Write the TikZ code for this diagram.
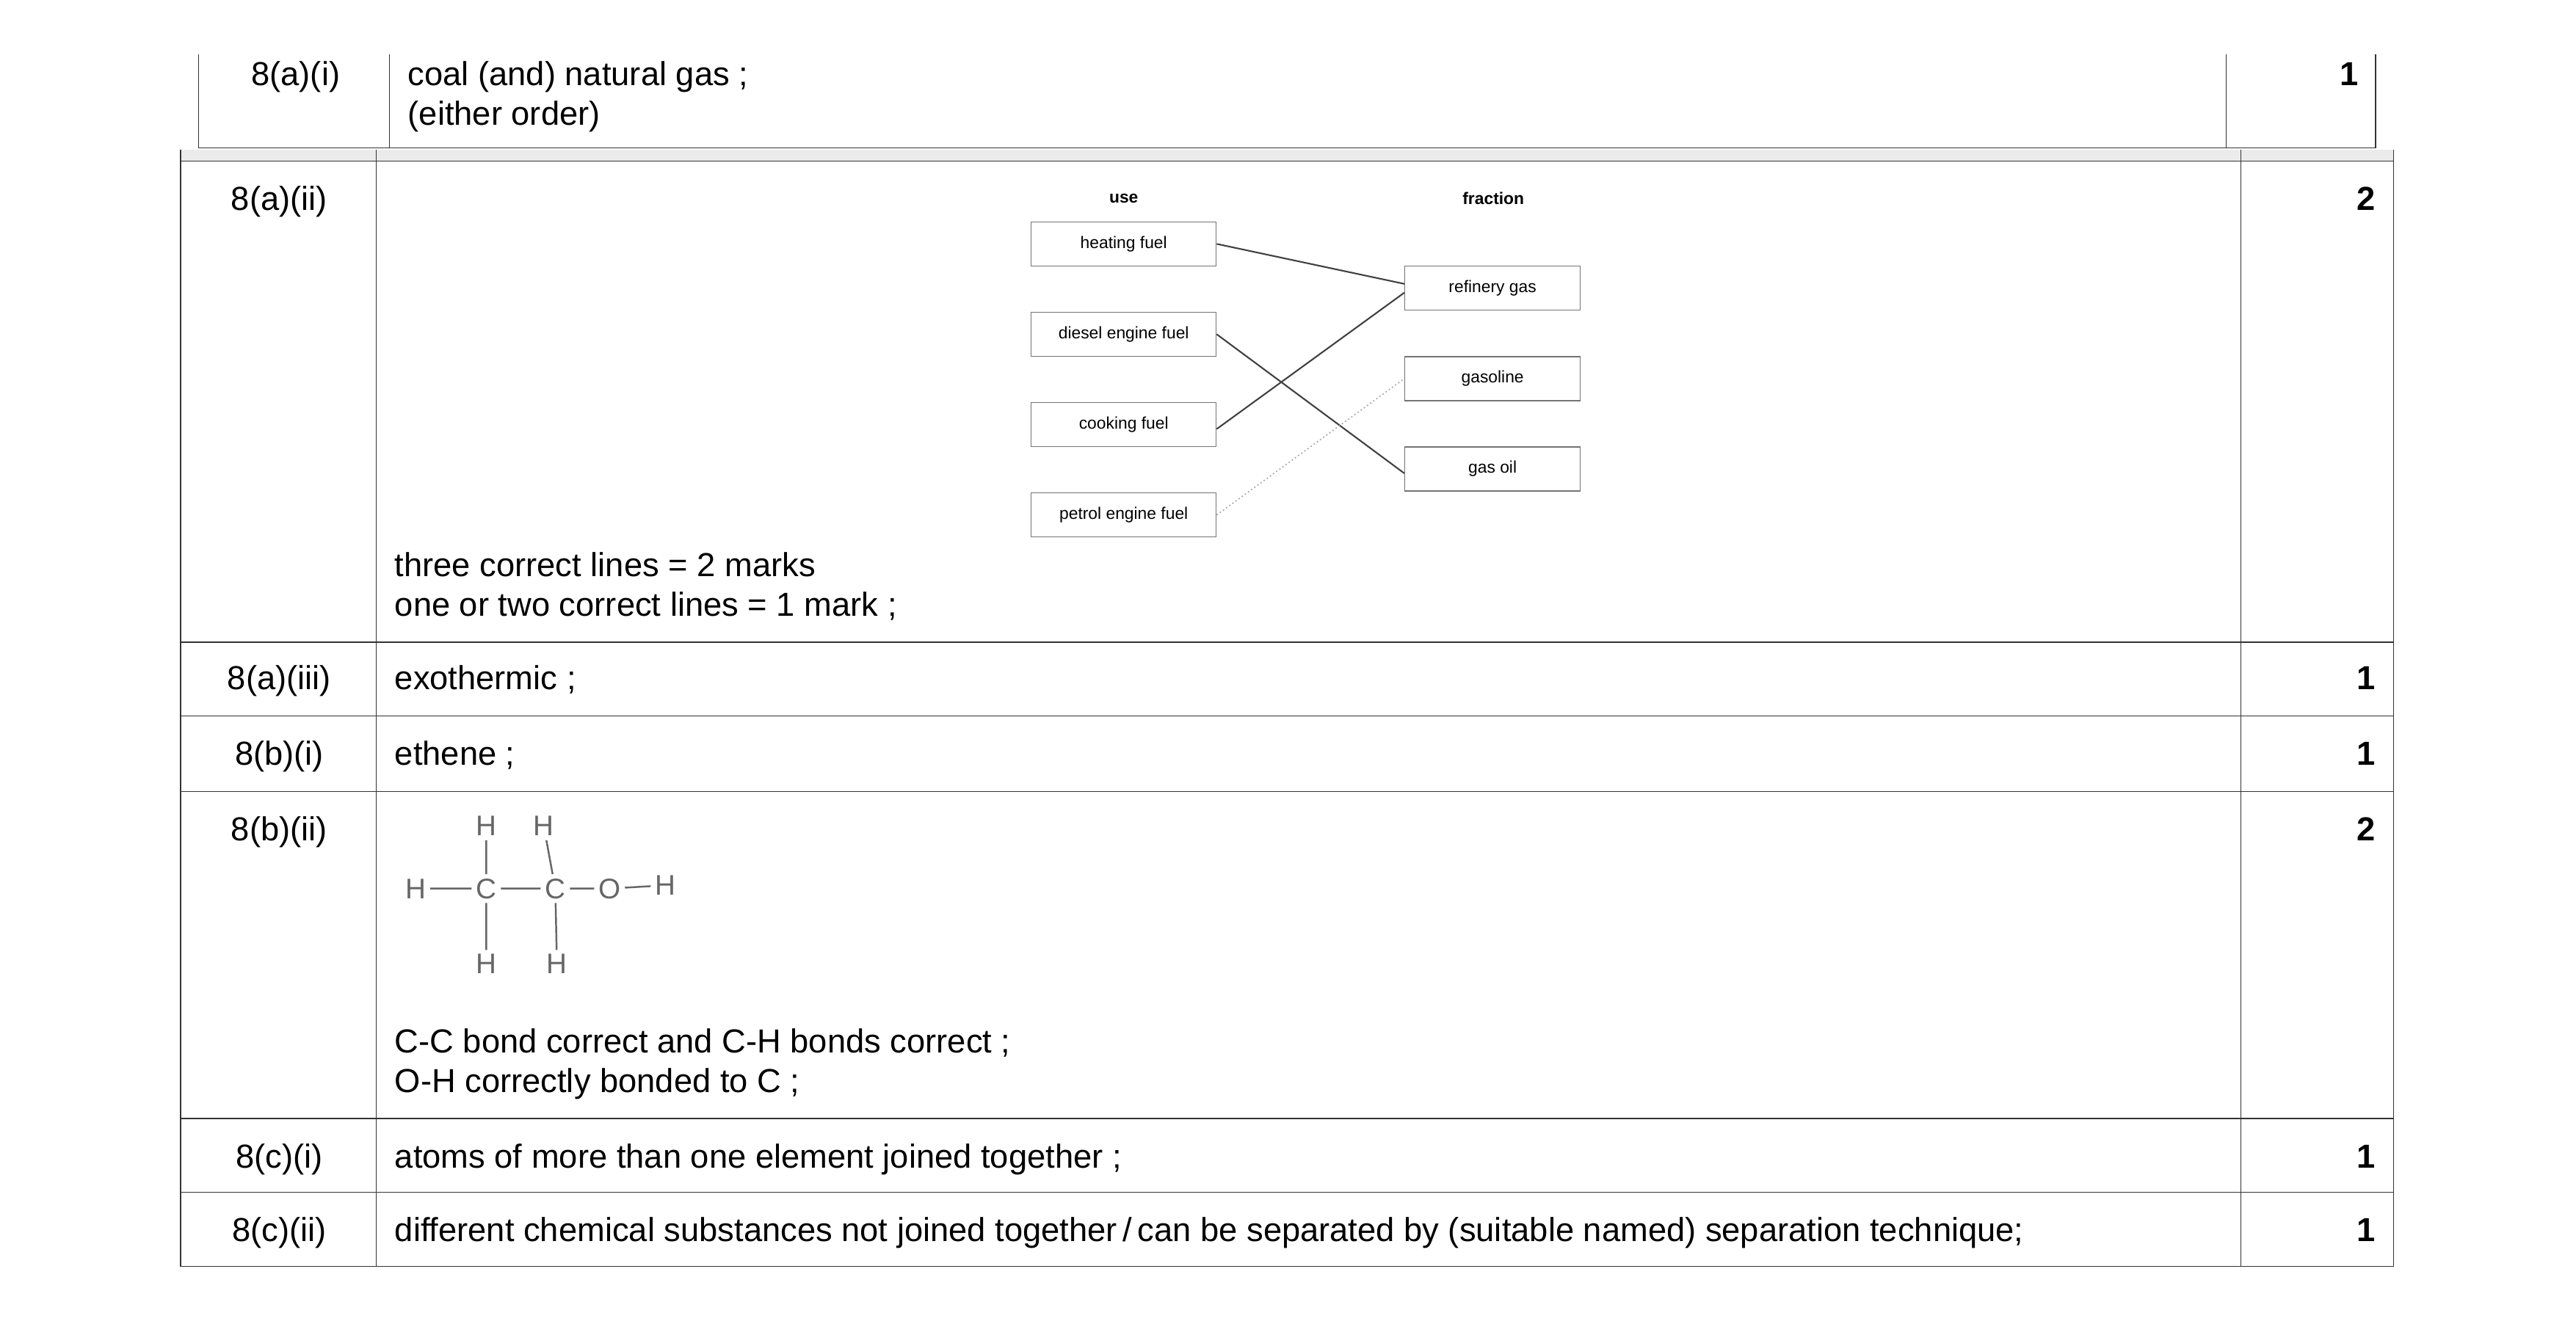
\documentclass[tikz,border=0pt]{standalone}
\usepackage{fontspec}
\setmainfont{Liberation Sans}
\usetikzlibrary{positioning}
\tikzset{
  txt/.style={anchor=base west, inner sep=0pt, font=\fontsize{12.9}{15}\selectfont},
  qno/.style={anchor=base, inner sep=0pt, font=\fontsize{12.9}{15}\selectfont},
  marks/.style={anchor=base east, inner sep=0pt, font=\fontsize{12.9}{15}\selectfont\bfseries},
  usebox/.style={draw=black!55, minimum width=2.52cm, minimum height=0.6cm, inner sep=0pt, font=\fontsize{6.5}{8}\selectfont},
  fracbox/.style={usebox, minimum width=2.39cm},
  head/.style={inner sep=0pt, font=\fontsize{6.5}{8}\selectfont\bfseries},
  atom/.style={inner sep=1.5pt, text=black!60, font=\fontsize{11}{12}\selectfont},
  bond/.style={draw=black!60, line width=0.7pt}
}
\begin{document}
\begin{tikzpicture}[x=0.02238cm, y=-0.02238cm]
\useasboundingbox (0,0) rectangle (1568,806);
% first (partial) row
\draw[black!80] (121,33) -- (121,90) -- (1446,90) -- (1446,33);
\draw[black!80] (237,33) -- (237,90) (1355,33) -- (1355,90);
\fill[black!8] (110,91) rectangle (1457,98);
\draw[black!80] (110,91) -- (110,98) (229,91) -- (229,98) (1364,91) -- (1364,98) (1457,91) -- (1457,98);
\node (q1) [qno] at (180,52) {8(a)(i)};
\node (a1) [txt] at (248,52) {coal (and) natural gas ;};
\node (a1b) [txt] at (248,76) {(either order)};
\node (m1) [marks] at (1436,52) {1};
% main table
\draw[black!80] (110,98) rectangle (1457,771);
\draw[black!80] (229,98) -- (229,771) (1364,98) -- (1364,771);
\foreach \yy in {391,436,482,681,726}
  \draw[black!80] (110,\yy) -- (1457,\yy);
\node (q2) [qno] at (170,128) {8(a)(ii)};
\node (m2) [marks] at (1446,128) {2};
\node (q3) [qno] at (170,420) {8(a)(iii)};
\node (m3) [marks] at (1446,420) {1};
\node (q4) [qno] at (170,466) {8(b)(i)};
\node (m4) [marks] at (1446,466) {1};
\node (q5) [qno] at (170,512) {8(b)(ii)};
\node (m5) [marks] at (1446,512) {2};
\node (q6) [qno] at (170,711) {8(c)(i)};
\node (m6) [marks] at (1446,711) {1};
\node (q7) [qno] at (170,756) {8(c)(ii)};
\node (m7) [marks] at (1446,756) {1};
% matching diagram
\node (use) [head] at (684,121) {use};
\node (fraction) [head] at (909,121) {fraction};
\node (heating) [usebox] at (684,148.5) {heating fuel};
\node (diesel) [usebox] at (684,203.5) {diesel engine fuel};
\node (cooking) [usebox] at (684,258.5) {cooking fuel};
\node (petrol) [usebox] at (684,313.5) {petrol engine fuel};
\node (refinery) [fracbox] at (908.5,175.5) {refinery gas};
\node (gasoline) [fracbox] at (908.5,230.5) {gasoline};
\node (gasoil) [fracbox] at (908.5,285.5) {gas oil};
\draw[black!75, line width=0.6pt] (heating.east) -- ([yshift=0.06cm]refinery.west);
\draw[black!75, line width=0.6pt] ([yshift=-0.06cm]cooking.east) -- ([yshift=-0.06cm]refinery.west);
\draw[black!75, line width=0.6pt] (diesel.east) -- ([yshift=-0.06cm]gasoil.west);
\draw[black!35, densely dotted, line width=0.5pt] (petrol.east) -- (gasoline.west);
\node (t2a) [txt] at (240,351) {three correct lines = 2 marks};
\node (t2b) [txt] at (240,375) {one or two correct lines = 1 mark ;};
\node (a3) [txt] at (240,420) {exothermic ;};
\node (a4) [txt] at (240,466) {ethene ;};
% structure
\node (h1) [atom] at (253,541) {H};
\node (c1) [atom] at (296,541) {C};
\node (c2) [atom] at (338,541) {C};
\node (o) [atom] at (371,541) {O};
\node (h2) [atom] at (405,539) {H};
\node (h3) [atom] at (296,503) {H};
\node (h4) [atom] at (331,503) {H};
\node (h5) [atom] at (296,587) {H};
\node (h6) [atom] at (339,587) {H};
\draw[bond] (h1) -- (c1) (c1) -- (c2) (c2) -- (o) (o) -- (h2);
\draw[bond] (h3) -- (c1) (h4) -- (c2) (c1) -- (h5) (c2) -- (h6);
\node (t5a) [txt] at (240,641) {C-C bond correct and C-H bonds correct ;};
\node (t5b) [txt] at (240,665) {O-H correctly bonded to C ;};
\node (a6) [txt] at (240,711) {atoms of more than one element joined together ;};
\node (a7) [txt] at (240,756) {different chemical substances not joined together\,/\,can be separated by (suitable named) separation technique;};
\end{tikzpicture}
\end{document}
